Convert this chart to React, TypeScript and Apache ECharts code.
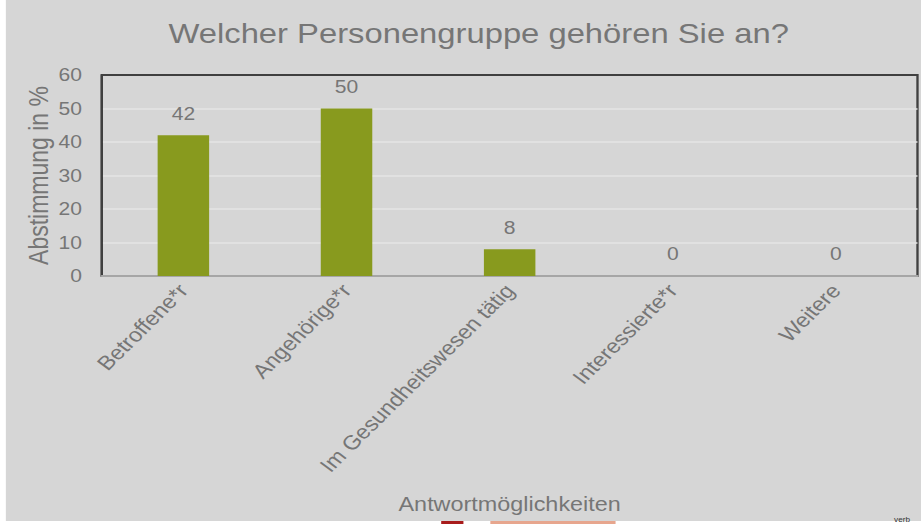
import React, { useEffect, useRef } from "react";
import * as echarts from "echarts";

const categories = ["Betroffene*r", "Angehörige*r", "Im Gesundheitswesen tätig", "Interessierte*r", "Weitere"];
const values = [42, 50, 8, 0, 0];
const titleText = "Welcher Personengruppe gehören Sie an?";
const yAxisName = "Abstimmung in %";
const xAxisName = "Antwortmöglichkeiten";

const FONT = "'Liberation Sans', Arial, sans-serif";
const TEXT = "#767676";
// the reference picture is stretched horizontally; the chart is drawn narrower and stretched with CSS
const PAGE_W = 921;
const CHART_W = 787;
const STRETCH = PAGE_W / CHART_W;

export default function App() {
  const ref = useRef<HTMLDivElement>(null);
  useEffect(() => {
    document.body.style.margin = "0";
    const chart = echarts.init(ref.current!, null, { renderer: "svg" });
    chart.setOption({
      animation: false,
      backgroundColor: "#ffffff",
      textStyle: { fontFamily: FONT },
      title: {
        text: titleText,
        left: 404,
        top: 14,
        textAlign: "center",
        textStyle: { fontFamily: FONT, fontSize: 28, fontWeight: "normal", color: TEXT },
      },
      graphic: [
        { type: "rect", z: -10, shape: { x: 5, y: 0, width: 782, height: 521 }, style: { fill: "#d6d6d6" } },
        { type: "rect", z: -10, shape: { x: 377, y: 521, width: 19, height: 3 }, style: { fill: "#a81c1c" } },
        { type: "rect", z: -10, shape: { x: 419, y: 521, width: 107, height: 3 }, style: { fill: "#e7a68e" } },
        { type: "text", z: 10, left: 764, top: 516, style: { text: "verb", fontSize: 7, fill: "#333", fontFamily: FONT } },
      ],
      grid: {
        left: 87,
        top: 75,
        right: 3,
        bottom: 248,
        show: true,
        backgroundColor: "transparent",
        borderColor: "#404040",
        borderWidth: 2,
      },
      xAxis: {
        type: "category",
        data: categories,
        name: xAxisName,
        nameLocation: "middle",
        nameGap: 218,
        nameMoveOverlap: false,
        nameTextStyle: { fontFamily: FONT, fontSize: 20, color: TEXT },
        axisLine: { show: true, lineStyle: { color: "#a6a6a6", width: 2 } },
        axisTick: { show: false },
        axisLabel: { rotate: 49, margin: 11, fontFamily: FONT, fontSize: 20, color: TEXT, interval: 0 },
      },
      yAxis: {
        type: "value",
        min: 0,
        max: 60,
        interval: 10,
        name: yAxisName,
        nameLocation: "middle",
        nameGap: 43,
        nameMoveOverlap: false,
        nameTextStyle: { fontFamily: FONT, fontSize: 23, color: TEXT },
        axisLine: { show: true, lineStyle: { color: "#404040", width: 2 } },
        axisTick: { show: false },
        axisLabel: { margin: 17, fontFamily: FONT, fontSize: 18, color: TEXT },
        splitLine: { show: true, showMinLine: false, showMaxLine: false, lineStyle: { color: "#e4e4e4", width: 1.5 } },
      },
      series: [
        {
          type: "bar",
          data: values,
          barWidth: 44,
          itemStyle: { color: "#889a1e" },
          label: { show: true, position: "top", distance: 13, fontFamily: FONT, fontSize: 18, color: TEXT },
        },
      ],
    });
    return () => chart.dispose();
  }, []);
  return (
    <div style={{ width: PAGE_W, height: 524, overflow: "hidden" }}>
      <div
        ref={ref}
        style={{ width: CHART_W, height: 524, transform: `scaleX(${STRETCH})`, transformOrigin: "0 0" }}
      />
    </div>
  );
}
